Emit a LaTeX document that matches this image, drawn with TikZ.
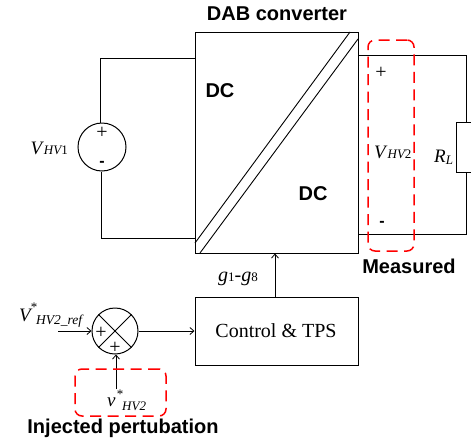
\documentclass[tikz,border=0pt]{standalone}
\usepackage{fontspec}
\setmainfont{Liberation Serif}
\newfontfamily\arialf{Liberation Sans}
\usetikzlibrary{arrows.meta}
\tikzset{
  x=1pt,y=-1pt,
  wire/.style={draw=black,line width=1.0pt},
  thin wire/.style={draw=black,line width=0.9pt},
  arrowed/.style={wire,-{Straight Barb[length=4pt,width=7pt,line width=0.8pt]}},
  blockbox/.style={draw=black,line width=1.0pt,minimum width=163pt,inner sep=0pt},
  redbox/.style={draw=red,line width=1.5pt,rounded corners=7pt,dash pattern=on 11pt off 6.5pt},
  boldlabel/.style={font=\arialf\bfseries\fontsize{20}{22}\selectfont,inner sep=0pt},
  mathlabel/.style={font=\fontsize{19}{21}\selectfont,inner sep=0pt},
  pmlabel/.style={font=\fontsize{20}{22}\selectfont,inner sep=0pt},
  minuslabel/.style={font=\arialf\bfseries\fontsize{16}{18}\selectfont,inner sep=0pt},
  srcircle/.style={draw=black,line width=1.0pt,circle,inner sep=0pt},
}
\newcommand{\sublbl}[1]{{\fontsize{13}{14}\selectfont\itshape #1}}
\newcommand{\subnum}[1]{{\fontsize{13}{14}\selectfont #1}}
\begin{document}
\begin{tikzpicture}
\useasboundingbox (0,0) rectangle (471,442);
% DAB box
\node[blockbox,minimum height=221pt] (dab) at (276.5,142.5) {};
\coordinate (d1a) at (195,243); \coordinate (d1b) at (350,32);
\coordinate (d2a) at (200,253); \coordinate (d2b) at (358,39);
\draw[thin wire] (d1a) -- (d1b);
\draw[thin wire] (d2a) -- (d2b);
\node[boldlabel] (title) at (277,14) {DAB converter};
\node[boldlabel] (dc1) at (220,91) {DC};
\node[boldlabel] (dc2) at (313,194) {DC};
% source
\node[srcircle,minimum size=48pt] (src) at (102,147) {};
\coordinate (s1) at (100,58); \coordinate (s1b) at (195,58);
\coordinate (s2) at (101,238); \coordinate (s2b) at (195,238);
\draw[wire] (s1b) -- (s1) -- (src.north -| s1);
\draw[wire] (s2b) -- (s2) -- (src.south -| s2);
\node[pmlabel] (splus) at (102,133) {+};
\node[minuslabel] (sminus) at (102,164) {-};
\node[mathlabel,anchor=east] (vhv1) at (68,148) {\textit{V}\sublbl{HV}\subnum{1}};
% load
\node[draw=black,line width=1.0pt,minimum width=30pt,minimum height=50pt,inner sep=0pt,anchor=west] (rl) at (456,147) {};
\coordinate (r1) at (358,55); \coordinate (r1b) at (466,55);
\coordinate (r2) at (358,234); \coordinate (r2b) at (466,234);
\draw[wire] (r1) -- (r1b) -- (r1b |- rl.north);
\draw[wire] (r2) -- (r2b) -- (r2b |- rl.south);
\node[mathlabel,anchor=west] (rllabel) at (434,157) {\textit{R}\raisebox{-2pt}{\sublbl{L}}};
\node[pmlabel] (oplus) at (381,73) {+};
\node[minuslabel] (ominus) at (382,224) {-};
\node[mathlabel,anchor=west] (vhv2) at (374,152) {\textit{V}\sublbl{HV}\subnum{2}};
\node[redbox,minimum width=46pt,minimum height=211pt] (meas) at (391,145.5) {};
\node[boldlabel] (measured) at (409,266) {Measured};
% control
\node[blockbox,minimum height=68pt] (ctl) at (276.5,331) {};
\node[font=\fontsize{20}{22}\selectfont,inner sep=0pt] (ctltext) at (276,331) {Control \& TPS};
\draw[arrowed] (ctl.north -| 275,0) -- (dab.south -| 275,0);
\node[font=\fontsize{20}{22}\selectfont,inner sep=0pt,anchor=east] (g) at (258,279) {\textit{g}\subnum{1}-\textit{g}\subnum{8}};
% sum
\node[srcircle,minimum size=46pt] (sum) at (115,331) {};
\draw[thin wire] (sum.45) -- (sum.225);
\draw[thin wire] (sum.135) -- (sum.315);
\node[pmlabel] (p1) at (101,333) {+};
\node[pmlabel] (p2) at (115,348) {+};
\coordinate (inref) at (58,331);
\coordinate (inj) at (116,389);
\draw[arrowed] (inref) -- (sum.west);
\draw[arrowed] (sum.east) -- (ctl.west |- sum.east);
\draw[arrowed] (inj) -- (inj |- sum.south);
\node[mathlabel,anchor=west] (vref) at (19,315) {\textit{V}};
\node[font=\fontsize{13}{14}\selectfont,inner sep=0pt] (vrefs) at (34,307) {*};
\node[font=\fontsize{13.5}{14}\selectfont,anchor=west,inner sep=0pt] (vrefsub) at (36,321) {\textit{HV2\_ref}};
\node[redbox,minimum width=91pt,minimum height=47pt] (injbox) at (120.5,392.5) {};
\node[mathlabel,anchor=west] (vs) at (107,402) {\textit{v}};
\node[font=\fontsize{13}{14}\selectfont,inner sep=0pt] (vss) at (120,394) {*};
\node[anchor=west,inner sep=0pt] (vssub) at (122,406) {\sublbl{HV2}};
\node[boldlabel] (injl) at (123,428) {Injected pertubation};
\end{tikzpicture}
\end{document}
